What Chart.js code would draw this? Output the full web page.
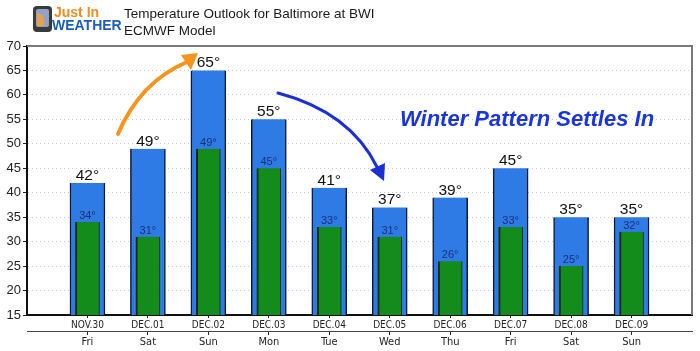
<!DOCTYPE html>
<html>
<head>
<meta charset="utf-8">
<script src="https://cdn.jsdelivr.net/npm/chart.js@4/dist/chart.umd.min.js"></script>
<style>
html,body{margin:0;padding:0;background:#fff;}
#wrap{position:relative;width:700px;height:351px;}
</style>
</head>
<body>
<div id="wrap"><canvas id="c" width="700" height="351"></canvas></div>
<script>
const dates = ['NOV.30','DEC.01','DEC.02','DEC.03','DEC.04','DEC.05','DEC.06','DEC.07','DEC.08','DEC.09'];
const days = ['Fri','Sat','Sun','Mon','Tue','Wed','Thu','Fri','Sat','Sun'];
const highs = [42,49,65,55,41,37,39,45,35,35];
const lows = [34,31,49,45,33,31,26,33,25,32];
const yTicks = [15,20,25,30,35,40,45,50,55,60,65,70];
const titleLines = ['Temperature Outlook for Baltimore at BWI','ECMWF Model'];
const note = 'Winter Pattern Settles In';

const pad = a => [null, ...a, null];
const dateLabels = ['', ...dates, ''];
const dayLabels = ['', ...days, ''];

const FONT = "'Liberation Sans', Arial, sans-serif";
const TFONT = "'DejaVu Sans Condensed','DejaVu Sans', sans-serif";

const decor = {
  id: 'decor',
  afterDraw(chart) {
    const ctx = chart.ctx;
    const ca = chart.chartArea;
    ctx.save();
    // top & right frame
    ctx.strokeStyle = '#7a7a7a';
    ctx.lineWidth = 2;
    ctx.beginPath();
    ctx.moveTo(ca.left, ca.top);
    ctx.lineTo(ca.right, ca.top);
    ctx.lineTo(ca.right, ca.bottom);
    ctx.stroke();

    // value labels
    const mh = chart.getDatasetMeta(1);
    const ml = chart.getDatasetMeta(0);
    ctx.textAlign = 'center';
    ctx.textBaseline = 'alphabetic';
    mh.data.forEach((el, i) => {
      const v = chart.data.datasets[1].data[i];
      if (v == null) return;
      ctx.fillStyle = '#111';
      ctx.font = "15.5px " + FONT;
      ctx.fillText(v + '°', el.x, el.y - 3);
    });
    ml.data.forEach((el, i) => {
      const v = chart.data.datasets[0].data[i];
      if (v == null) return;
      ctx.fillStyle = '#1d2f78';
      ctx.font = "11px " + FONT;
      ctx.fillText(v + '°', el.x, el.y - 3);
    });

    // title
    ctx.textAlign = 'left';
    ctx.fillStyle = '#1a1a1a';
    ctx.font = "13.5px " + FONT;
    ctx.fillText(titleLines[0], 124, 18);
    ctx.fillText(titleLines[1], 124, 35);

    // logo
    ctx.fillStyle = '#3a3a3a';
    roundRect(ctx, 33, 6, 19, 26, 4); ctx.fill();
    ctx.fillStyle = '#8fa3c8';
    roundRect(ctx, 36, 9, 13, 18, 2); ctx.fill();
    ctx.fillStyle = '#e9a04a';
    ctx.beginPath(); ctx.moveTo(37,26); ctx.lineTo(37,13); ctx.quadraticCurveTo(43,13,44,19); ctx.lineTo(44,26); ctx.closePath(); ctx.fill();
    ctx.font = "bold 14px " + FONT;
    ctx.fillStyle = '#f08c1e';
    ctx.fillText('Just In', 54, 17);
    ctx.font = "bold 14px 'Liberation Sans Narrow', " + FONT;
    ctx.fillStyle = '#1c5fb8';
    ctx.fillText('WEATHER', 52, 30);

    // note
    ctx.font = "italic bold 22px " + FONT;
    ctx.fillStyle = '#1a35d8';
    ctx.fillText(note, 400, 126);

    // orange arrow
    ctx.strokeStyle = '#f7941d';
    ctx.fillStyle = '#f7941d';
    ctx.lineWidth = 4;
    ctx.lineCap = 'round';
    ctx.beginPath();
    ctx.moveTo(118, 134);
    ctx.quadraticCurveTo(140, 82, 187, 62);
    ctx.stroke();
    ctx.beginPath();
    ctx.moveTo(181, 55); ctx.lineTo(198, 53); ctx.lineTo(191, 70); ctx.closePath(); ctx.fill();

    // blue arrow
    ctx.strokeStyle = '#1a2fd6';
    ctx.fillStyle = '#1a2fd6';
    ctx.lineWidth = 3;
    ctx.beginPath();
    ctx.moveTo(278, 93);
    ctx.quadraticCurveTo(350, 112, 377, 167);
    ctx.stroke();
    ctx.beginPath();
    ctx.moveTo(370, 170); ctx.lineTo(385, 163); ctx.lineTo(384, 181); ctx.closePath(); ctx.fill();
    ctx.restore();
  }
};
function roundRect(ctx, x, y, w, h, r) {
  ctx.beginPath();
  ctx.moveTo(x + r, y);
  ctx.arcTo(x + w, y, x + w, y + h, r);
  ctx.arcTo(x + w, y + h, x, y + h, r);
  ctx.arcTo(x, y + h, x, y, r);
  ctx.arcTo(x, y, x + w, y, r);
  ctx.closePath();
}

const tickCol = ctx => (ctx.tick && ctx.tick.label === '') ? 'rgba(0,0,0,0)' : '#222';

new Chart(document.getElementById('c'), {
  type: 'bar',
  data: {
    labels: dateLabels,
    datasets: [
      { label: 'Low', data: pad(lows), backgroundColor: '#138c1c', borderColor: '#0b2a10',
        borderWidth: {left: 2, right: 1, top: 0, bottom: 0}, borderSkipped: false,
        barThickness: 24, grouped: false, order: 0, xAxisID: 'x' },
      { label: 'High', data: pad(highs), backgroundColor: '#2e7be6', borderColor: '#0d1a33',
        borderWidth: {left: 1.5, right: 1.5, top: 0, bottom: 0}, borderSkipped: false,
        barThickness: 35, grouped: false, order: 1, xAxisID: 'x' }
    ]
  },
  options: {
    responsive: false,
    animation: false,
    layout: { padding: { left: 0, right: 8, top: 46, bottom: 0 } },
    plugins: { legend: { display: false }, tooltip: { enabled: false } },
    scales: {
      y: {
        min: 15, max: 70,
        afterFit: s => { s.width = 27; },
        afterBuildTicks: s => { s.ticks = yTicks.map(v => ({ value: v })); },
        ticks: { color: '#222', font: { size: 13, family: FONT }, padding: 2 },
        grid: { color: '#c8c8c8', tickColor: '#222', tickLength: 4, tickBorderDash: [], lineWidth: 1 },
        border: { display: true, color: '#111', width: 2, dash: [1, 3] }
      },
      x: {
        type: 'category', offset: false, position: 'bottom',
        afterFit: s => { s.height = 16; },
        ticks: { color: '#222', font: { size: 10, family: TFONT }, padding: 1, maxRotation: 0, autoSkip: false },
        grid: { offset: false, drawOnChartArea: false, drawTicks: true, tickLength: 3, tickColor: tickCol, color: 'rgba(0,0,0,0)' },
        border: { display: true, color: '#111', width: 2 }
      },
      x2: {
        type: 'category', offset: false, position: 'bottom', labels: dayLabels,
        afterFit: s => { s.height = 20; },
        ticks: { color: '#222', font: { size: 11, family: TFONT }, padding: 1, maxRotation: 0, autoSkip: false },
        grid: { offset: false, drawOnChartArea: false, drawTicks: true, tickLength: 4, tickColor: tickCol, color: 'rgba(0,0,0,0)' },
        border: { display: true, color: '#444', width: 1 }
      }
    }
  },
  plugins: [decor]
});
</script>
</body>
</html>
